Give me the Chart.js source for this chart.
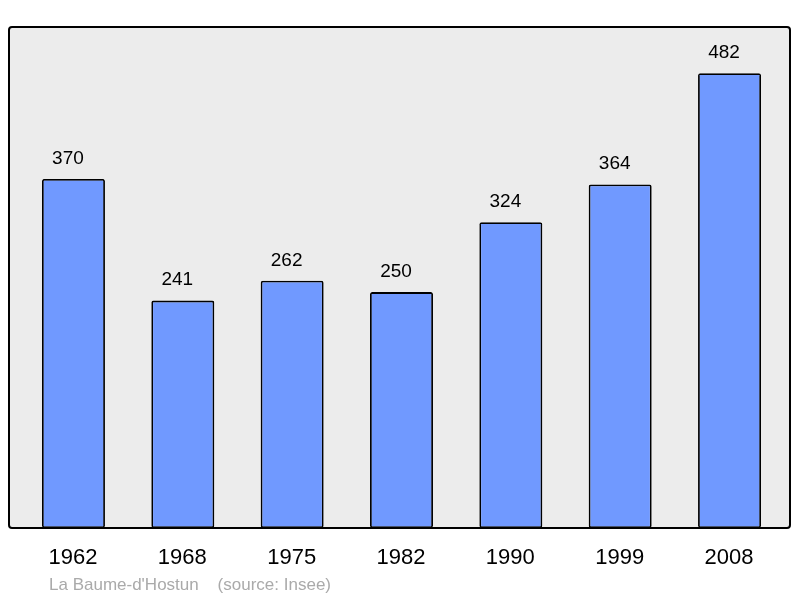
<!DOCTYPE html>
<html>
<head>
<meta charset="utf-8">
<script src="https://cdn.jsdelivr.net/npm/chart.js@4/dist/chart.umd.min.js"></script>
<style>
html,body{margin:0;padding:0;background:#fff;}
#wrap{width:800px;height:598px;position:relative;}
</style>
</head>
<body>
<div id="wrap"><canvas id="c" width="800" height="598"></canvas></div>
<script>
const categories = ['1962','1968','1975','1982','1990','1999','2008'];
const population = [370, 241, 262, 250, 324, 364, 482];
const footerText = "La Baume-d'Hostun    (source: Insee)";

const FONT = '"Liberation Sans", Arial, sans-serif';

const decor = {
  id: 'decor',
  beforeDraw(chart) {
    const {ctx, chartArea: a} = chart;
    const x0 = a.left - 9.8, x1 = a.right + 5.8;
    ctx.save();
    ctx.beginPath();
    ctx.roundRect(x0, a.top, x1 - x0, a.bottom - a.top, 3);
    ctx.fillStyle = '#ececec';
    ctx.fill();
    ctx.restore();
  },
  afterDatasetsDraw(chart) {
    const {ctx, chartArea: a, scales} = chart;
    const x0 = a.left - 9.8, x1 = a.right + 5.8;
    ctx.save();
    ctx.beginPath();
    ctx.roundRect(x0, a.top, x1 - x0, a.bottom - a.top, 3);
    ctx.lineWidth = 2;
    ctx.strokeStyle = '#000';
    ctx.stroke();
    ctx.fillStyle = '#000';
    ctx.textAlign = 'center';
    ctx.textBaseline = 'middle';
    ctx.font = '19px ' + FONT;
    population.forEach((v, i) => {
      const x = scales.x.getPixelForValue(i);
      const y = scales.y.getPixelForValue(v);
      ctx.fillText(String(v), x - 5.5, y - 20.5);
    });
    ctx.font = '22px ' + FONT;
    categories.forEach((c, i) => {
      const x = scales.x.getPixelForValue(i);
      ctx.fillText(c, x - 0.5, a.bottom + 29.5);
    });
    ctx.textAlign = 'left';
    ctx.font = '17px ' + FONT;
    ctx.fillStyle = '#aaaaaa';
    ctx.fillText(footerText, 49, a.bottom + 57);
    ctx.restore();
  }
};

new Chart(document.getElementById('c'), {
  type: 'bar',
  data: {
    labels: categories,
    datasets: [{
      data: population,
      backgroundColor: '#7099ff',
      borderColor: '#000',
      borderWidth: 1.8,
      borderRadius: 2,
      borderSkipped: false,
      categoryPercentage: 1,
      barPercentage: 0.576
    }]
  },
  options: {
    responsive: false,
    animation: false,
    events: [],
    layout: {padding: {top: 27, bottom: 70, left: 18.8, right: 15.8}},
    plugins: {legend: {display: false}, tooltip: {enabled: false}},
    scales: {
      x: {display: false},
      y: {display: false, min: 0, max: 531}
    }
  },
  plugins: [decor]
});
</script>
</body>
</html>
